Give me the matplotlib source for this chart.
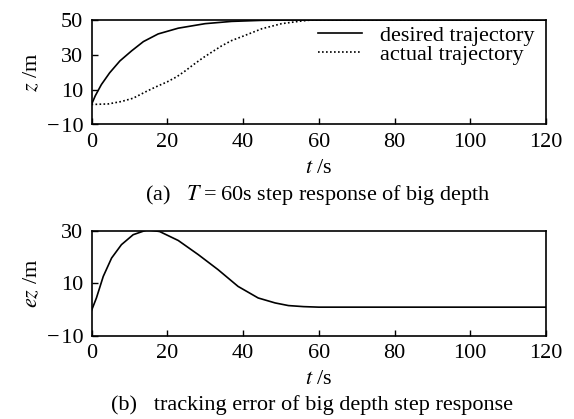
import numpy as np
import matplotlib
matplotlib.use('Agg')
import matplotlib.pyplot as plt

plt.rcParams['font.family'] = ['Liberation Serif', 'DejaVu Serif']
plt.rcParams['mathtext.fontset'] = 'stix'

# (a) step response
t_des = [0, 1, 2.6, 4.8, 7.5, 10.6, 13.7, 17.6, 22.9, 30, 37, 45, 52, 60, 120]
z_des = [1.5, 6.5, 12.9, 19.7, 26.5, 32.3, 37.6, 42.0, 45.3, 47.9, 49.2, 49.8, 50.0, 50.0, 50.0]

t_act = [0, 4.4, 7.9, 11, 14.5, 17, 20, 22.5, 24.7, 27, 29.5, 32, 34.4, 37, 40, 45, 50.2, 55, 58, 120]
z_act = [1.5, 1.8, 3.2, 5.1, 9.0, 11.6, 14.5, 17.4, 20.7, 24.5, 28.4, 31.9, 35.2, 38.2, 40.7, 45.0, 47.9, 49.3, 50.0, 50.0]

# (b) tracking error
t_err = [0, 1.3, 3.1, 5.3, 7.9, 11, 14.8, 18, 22.9, 28.2, 33.4, 38.7, 44, 48.5, 52, 56, 60, 120]
ez = [-0.5, 4.3, 12.5, 19.5, 24.6, 28.4, 30.3, 29.6, 26.2, 20.8, 15.1, 8.7, 4.3, 2.4, 1.4, 1.0, 0.8, 0.8]

W, H = 574, 419
fig = plt.figure(figsize=(W / 100, H / 100), dpi=100)

def px_axes(left, right, top, bottom):
    return fig.add_axes([left / W, 1 - bottom / H, (right - left) / W, (bottom - top) / H])

ax1 = px_axes(91.5, 546, 20, 124.5)
ax2 = px_axes(91.5, 546, 230.5, 335.5)

MINUS = '\u2212\u200a'

ax1.plot(t_des, z_des, color='black', lw=1.2, label='desired trajectory')
ax1.plot(t_act, z_act, color='black', lw=1.2, ls=(0, (1, 1.4)), label='actual trajectory')
ax1.set_ylim(-10, 50)
ax1.set_yticks([-10, 10, 30, 50])
ax1.set_yticklabels([MINUS + '10', '10', '30', '50'])
ax1.set_ylabel('$z$ /m', fontsize=16, labelpad=3)
ax1.legend(loc='upper right', frameon=False, fontsize=16, handlelength=2.0,
           handletextpad=0.8, labelspacing=-0.05, borderaxespad=0.0,
           borderpad=0.0, bbox_to_anchor=(0.975, 0.95))

ax2.plot(t_err, ez, color='black', lw=1.2)
ax2.set_ylim(-10, 30)
ax2.set_yticks([-10, 10, 30])
ax2.set_yticklabels([MINUS + '10', '10', '30'])
ax2.set_ylabel('$ez$ /m', fontsize=16, labelpad=3)

for ax in (ax1, ax2):
    ax.set_xlim(0, 120)
    ax.set_xticks([0, 20, 40, 60, 80, 100, 120])
    ax.tick_params(direction='in', length=4, width=1.0, labelsize=16, pad=6,
                   top=False, right=False)
    for s in ax.spines.values():
        s.set_linewidth(1.2)
    ax.set_xlabel('$t$ /s', fontsize=16, labelpad=5)

fig.text(318 / W, 1 - 195 / H, '(a)   $T$\u2009=\u200960s step response of big depth',
         ha='center', va='center', fontsize=16)
fig.text(312 / W, 1 - 405 / H, '(b)   tracking error of big depth step response',
         ha='center', va='center', fontsize=16)

fig.savefig('out.png', dpi=100)
